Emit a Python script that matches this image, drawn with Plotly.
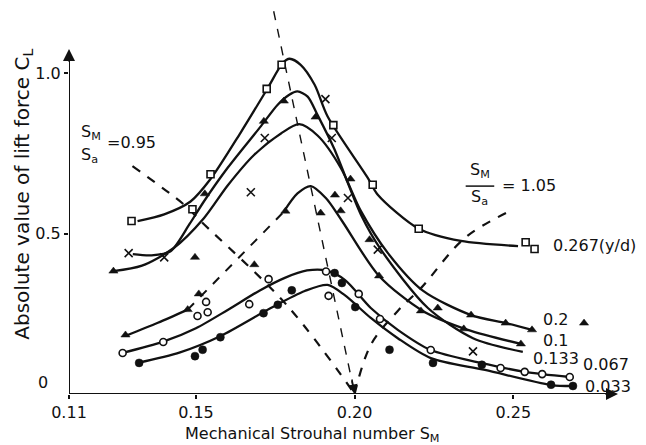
import plotly.graph_objects as go

# ---------------- data ----------------
# fitted curves, one per amplitude ratio y/d
A_x = [0.1316, 0.1400, 0.1483, 0.1546, 0.1641, 0.1726, 0.1773, 0.1795, 0.1830, 0.1874, 0.1915, 0.2042, 0.2073, 0.2202, 0.2335, 0.2515]
A_y = [0.539, 0.560, 0.600, 0.670, 0.815, 0.953, 1.031, 1.045, 1.026, 0.964, 0.865, 0.673, 0.621, 0.515, 0.477, 0.461]

B_x = [0.1301, 0.1360, 0.1420, 0.1480, 0.1525, 0.1600, 0.1705, 0.1757, 0.1793, 0.1820, 0.1852, 0.1883, 0.1935, 0.2020, 0.2083, 0.2231, 0.2373, 0.2530]
B_y = [0.436, 0.432, 0.445, 0.530, 0.600, 0.705, 0.835, 0.901, 0.932, 0.943, 0.927, 0.870, 0.766, 0.559, 0.450, 0.268, 0.174, 0.131]

C_x = [0.1240, 0.1330, 0.1430, 0.1525, 0.1600, 0.1683, 0.1768, 0.1825, 0.1884, 0.1957, 0.2020, 0.2105, 0.2215, 0.2367, 0.2476, 0.2559]
C_y = [0.383, 0.400, 0.455, 0.548, 0.650, 0.745, 0.812, 0.841, 0.805, 0.704, 0.570, 0.439, 0.322, 0.246, 0.221, 0.200]

D1_x = [0.1278, 0.1380, 0.1474]
D1_y = [0.181, 0.222, 0.263]
D2_x = [0.1474, 0.1776]
D2_y = [0.263, 0.567]
D3_x = [0.1776, 0.1820, 0.1862, 0.1910, 0.1960, 0.2077, 0.2215, 0.2357, 0.2524]
D3_y = [0.567, 0.625, 0.648, 0.610, 0.540, 0.368, 0.259, 0.200, 0.156]

E_x = [0.1269, 0.1397, 0.1500, 0.1600, 0.1700, 0.1780, 0.1850, 0.1910, 0.1970, 0.2051, 0.2136, 0.2240, 0.2398, 0.2536, 0.2678]
E_y = [0.128, 0.163, 0.205, 0.262, 0.322, 0.362, 0.385, 0.385, 0.355, 0.268, 0.200, 0.137, 0.097, 0.069, 0.053]

F_x = [0.1316, 0.1450, 0.1578, 0.1736, 0.1843, 0.1915, 0.1969, 0.2051, 0.2136, 0.2240, 0.2411, 0.2619, 0.2688]
F_y = [0.097, 0.130, 0.181, 0.268, 0.321, 0.340, 0.308, 0.237, 0.174, 0.112, 0.075, 0.028, 0.025]

# measured points
sq_x = [0.1297, 0.1489, 0.1546, 0.1723, 0.1770, 0.1933, 0.2057, 0.2202, 0.2539, 0.2567]
sq_y = [0.539, 0.576, 0.685, 0.951, 1.026, 0.838, 0.652, 0.515, 0.473, 0.452]

cr_x = [0.1288, 0.1400, 0.1673, 0.1717, 0.1908, 0.1928, 0.1979, 0.2073, 0.2373]
cr_y = [0.439, 0.426, 0.629, 0.798, 0.919, 0.798, 0.611, 0.450, 0.133]

tr_x = [0.1240, 0.1278, 0.1474, 0.1497, 0.1509, 0.1528, 0.1684, 0.1714, 0.1777, 0.1782, 0.1877, 0.1893,
        0.1938, 0.1956, 0.1987, 0.2047, 0.2077, 0.2209, 0.2262, 0.2344, 0.2367, 0.2476, 0.2524, 0.2559, 0.2723]
tr_y = [0.383, 0.184, 0.263, 0.426, 0.312, 0.624, 0.403, 0.850, 0.913, 0.570, 0.863, 0.564,
        0.620, 0.571, 0.670, 0.481, 0.368, 0.259, 0.268, 0.203, 0.246, 0.221, 0.156, 0.200, 0.221]

oc_x = [0.1269, 0.1397, 0.1505, 0.1537, 0.1532, 0.1668, 0.1729, 0.1910, 0.1918, 0.2013, 0.2080, 0.2240, 0.2460, 0.2536, 0.2591, 0.2678]
oc_y = [0.128, 0.162, 0.243, 0.255, 0.287, 0.280, 0.358, 0.382, 0.306, 0.312, 0.234, 0.137, 0.081, 0.069, 0.062, 0.053]

fc_x = [0.1321, 0.1497, 0.1521, 0.1577, 0.1713, 0.1758, 0.1802, 0.1937, 0.1960, 0.2002, 0.2110, 0.2247, 0.2401, 0.2619, 0.2688]
fc_y = [0.097, 0.118, 0.138, 0.177, 0.252, 0.278, 0.323, 0.377, 0.346, 0.271, 0.138, 0.097, 0.091, 0.029, 0.025]

# dashed guide lines
peak_x = [0.1745, 0.2000]
peak_y = [1.193, 0.0]
r095_x = [0.1300, 0.1464, 0.1515, 0.1789, 0.2000]
r095_y = [0.710, 0.589, 0.539, 0.274, 0.0]
r105_x = [0.2000, 0.2051, 0.2136, 0.2209, 0.2347, 0.2477]
r105_y = [0.0, 0.153, 0.259, 0.330, 0.486, 0.564]

x_ticks = [0.11, 0.15, 0.20, 0.25]
x_tick_text = ["0.11", "0.15", "0.20", "0.25"]
y_ticks = [0.5, 1.0]
y_tick_text = ["0.5", "1.0"]

curve_labels = ["0.267(y/d)", "0.2", "0.1", "0.133", "0.067", "0.033"]

# ---------------- figure ----------------
FONT = "DejaVu Sans, sans-serif"
INK = "#111111"
fig = go.Figure()

def curve(x, y, dash="solid", width=2.3):
    fig.add_trace(go.Scatter(x=x, y=y, mode="lines",
                             line=dict(color=INK, width=width, dash=dash, shape="spline", smoothing=0.8),
                             showlegend=False, hoverinfo="skip"))

for cx, cy in [(A_x, A_y), (B_x, B_y), (C_x, C_y), (D1_x, D1_y), (D3_x, D3_y), (E_x, E_y), (F_x, F_y)]:
    curve(cx, cy)
curve(D2_x, D2_y, dash="dash", width=2.0)

# dashed guide lines
fig.add_trace(go.Scatter(x=peak_x, y=peak_y, mode="lines", line=dict(color=INK, width=1.4, dash="dash"),
                         showlegend=False, hoverinfo="skip"))
fig.add_trace(go.Scatter(x=r095_x, y=r095_y, mode="lines", line=dict(color=INK, width=2.2, dash="dash", shape="spline"),
                         showlegend=False, hoverinfo="skip"))
fig.add_trace(go.Scatter(x=r105_x, y=r105_y, mode="lines", line=dict(color=INK, width=2.2, dash="dash", shape="spline"),
                         showlegend=False, hoverinfo="skip"))

def pts(x, y, symbol, size, fill, lw=1.6):
    fig.add_trace(go.Scatter(x=x, y=y, mode="markers", cliponaxis=False,
                             marker=dict(symbol=symbol, size=size, color=fill, line=dict(color=INK, width=lw)),
                             showlegend=False, hoverinfo="skip"))

pts(sq_x, sq_y, "square", 7, "white")
pts(cr_x, cr_y, "x-thin-open", 8, INK)
pts(tr_x, tr_y, "triangle-up", 8, INK, lw=0.5)
pts(oc_x, oc_y, "circle", 7, "white")
pts(fc_x, fc_y, "circle", 8, INK, lw=0.5)

# axis lines with arrow heads
fig.add_shape(type="line", x0=0.11, y0=0, x1=0.11, y1=1.07, line=dict(color=INK, width=2))
fig.add_shape(type="line", x0=0.11, y0=0, x1=0.282, y1=0, line=dict(color=INK, width=2))
fig.add_annotation(x=0.11, y=1.075, ax=0, ay=14, showarrow=True, arrowhead=2, arrowsize=1.2, arrowwidth=2, arrowcolor=INK, text="")
fig.add_annotation(x=0.283, y=0, ax=-14, ay=0, showarrow=True, arrowhead=2, arrowsize=1.2, arrowwidth=2, arrowcolor=INK, text="")
fig.add_annotation(x=0.2, y=0.0, ax=-3, ay=-16, showarrow=True, arrowhead=2, arrowsize=1.2, arrowwidth=1.6, arrowcolor=INK, text="")

fs = 16
# curve labels
lab_pos = [(0.2619, 0.464), (0.2587, 0.231), (0.2587, 0.168), (0.2556, 0.112), (0.2714, 0.093), (0.2720, 0.022)]
for t, (lx, ly) in zip(curve_labels, lab_pos):
    fig.add_annotation(x=lx, y=ly, text=t, showarrow=False, xanchor="left", yanchor="middle",
                       font=dict(family=FONT, size=fs, color=INK))

# ratio labels
def txt(x, y, t, anchor="center"):
    fig.add_annotation(x=x, y=y, text=t, showarrow=False, xanchor=anchor, yanchor="middle",
                       font=dict(family=FONT, size=fs, color=INK))

txt(0.1168, 0.816, "S<sub>M</sub>")
txt(0.1166, 0.742, "S<sub>a</sub>")
txt(0.1212, 0.785, "=0.95", "left")
txt(0.2395, 0.698, "S<sub>M</sub>")
fig.add_shape(type="line", x0=0.2350, x1=0.2440, y0=0.648, y1=0.648, line=dict(color=INK, width=1.5))
txt(0.2392, 0.612, "S<sub>a</sub>")
txt(0.2457, 0.651, "= 1.05", "left")

# zero label of the y axis (set off to the left, as drawn)
fig.add_annotation(xref="paper", yref="paper", x=-0.048, y=0.030, text="0", showarrow=False,
                   xanchor="center", yanchor="middle", font=dict(family=FONT, size=fs, color=INK))

# axis titles
fig.add_annotation(xref="paper", yref="paper", x=0.444, y=-0.104, text="Mechanical Strouhal number S<sub>M</sub>",
                   showarrow=False, xanchor="center", yanchor="middle", font=dict(family=FONT, size=fs, color=INK))
fig.add_annotation(xref="paper", yref="paper", x=-0.084, y=0.52, text="Absolute value of lift force C<sub>L</sub>",
                   textangle=-90, showarrow=False, xanchor="center", yanchor="middle",
                   font=dict(family=FONT, size=20, color=INK))

fig.update_layout(
    width=646, height=445,
    margin=dict(l=61, r=36, t=1, b=59),
    paper_bgcolor="white", plot_bgcolor="white",
    xaxis=dict(range=[0.11, 0.283], tickvals=x_ticks, ticktext=x_tick_text, showgrid=False, zeroline=False,
               showline=False, ticks="outside", ticklen=4, tickwidth=1.5, tickcolor=INK,
               tickfont=dict(family=FONT, size=fs, color=INK)),
    yaxis=dict(range=[0, 1.2], tickvals=y_ticks, ticktext=y_tick_text, showgrid=False, zeroline=False,
               showline=False, ticks="outside", ticklen=4, tickwidth=1.5, tickcolor=INK,
               tickfont=dict(family=FONT, size=fs, color=INK)),
)

fig.write_html("out.html")
